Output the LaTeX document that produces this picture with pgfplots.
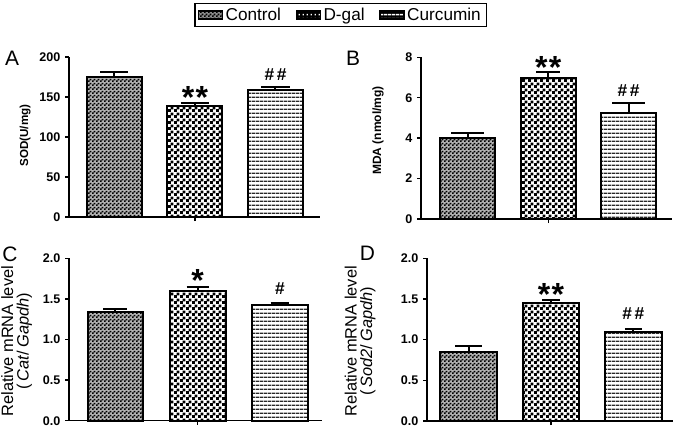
\documentclass[border=0pt]{standalone}
\usepackage{pgfplots}
\pgfplotsset{compat=1.18}
\usepackage{fontspec}
\setmainfont{Liberation Sans}
\usetikzlibrary{patterns}

\pgfdeclarepatternformonly{finecheck}{\pgfqpoint{0pt}{0pt}}{\pgfqpoint{3pt}{3pt}}{\pgfqpoint{3pt}{3pt}}{%
  \pgfpathrectangle{\pgfqpoint{0pt}{0pt}}{\pgfqpoint{1.5pt}{1.5pt}}%
  \pgfpathrectangle{\pgfqpoint{1.5pt}{1.5pt}}{\pgfqpoint{1.5pt}{1.5pt}}%
  \pgfusepath{fill}}
\pgfdeclarepatternformonly{bigcheck}{\pgfqpoint{0pt}{0pt}}{\pgfqpoint{4.5pt}{4.5pt}}{\pgfqpoint{4.5pt}{4.5pt}}{%
  \pgfpathrectangle{\pgfqpoint{0pt}{0pt}}{\pgfqpoint{2.4pt}{2.4pt}}%
  \pgfpathrectangle{\pgfqpoint{2.25pt}{2.25pt}}{\pgfqpoint{2.4pt}{2.4pt}}%
  \pgfusepath{fill}}
\pgfdeclarepatternformonly{hlinesp}{\pgfqpoint{0pt}{0pt}}{\pgfqpoint{3pt}{3pt}}{\pgfqpoint{3pt}{3pt}}{%
  \pgfpathrectangle{\pgfqpoint{0pt}{0pt}}{\pgfqpoint{3pt}{1.3pt}}%
  \pgfusepath{fill}}
\pgfdeclarepatternformonly{smalldots}{\pgfqpoint{0pt}{0pt}}{\pgfqpoint{2.6pt}{2.6pt}}{\pgfqpoint{2.6pt}{2.6pt}}{%
  \pgfpathrectangle{\pgfqpoint{0.6pt}{0.6pt}}{\pgfqpoint{1.1pt}{1.1pt}}%
  \pgfusepath{fill}}
\pgfdeclarepatternformonly{legstripes}{\pgfqpoint{0pt}{0pt}}{\pgfqpoint{3pt}{2.6pt}}{\pgfqpoint{3pt}{2.6pt}}{%
  \pgfpathrectangle{\pgfqpoint{0pt}{0.6pt}}{\pgfqpoint{3pt}{1.1pt}}%
  \pgfusepath{fill}}

\pgfplotsset{
  panel/.style={
    scale only axis, anchor=south west,
    axis x line=bottom, axis y line=left,
    axis line style={-, line width=1pt},
    tick align=outside, major tick length=3pt,
    every tick/.style={black, line width=1pt},
    xtick={2}, xticklabels={{}},
    ymin=0, clip=false,
    tick label style={font=\bfseries\fontsize{9.4}{10}\selectfont},
    /pgf/number format/assume math mode=true,
  },
  ctrl/.style={ybar, bar shift=0pt, draw=black, line width=1.5pt, fill=black!30, postaction={pattern=finecheck, pattern color=black}, forget plot},
  dgal/.style={ybar, bar shift=0pt, draw=black, line width=1.5pt, pattern=bigcheck, pattern color=black, forget plot},
  curc/.style={ybar, bar shift=0pt, draw=black, line width=1.5pt, fill=white, postaction={pattern=hlinesp, pattern color=black!85}, forget plot},
  eb/.style={error bars/.cd, y dir=plus, y explicit,
    error bar style={line width=1.5pt, black},
    error mark options={rotate=90, mark size=#1, line width=1.5pt, black}},
}
\newcommand{\astfont}{\fontsize{24}{24}\selectfont\bfseries}
\newcommand{\hshfont}{\fontsize{13}{13}\selectfont\bfseries}

\begin{document}
\begin{tikzpicture}
\useasboundingbox (0,0) rectangle (510pt,321.75pt);

% Panel labels
\node[font=\fontsize{15.7}{16}\selectfont] at (9pt,277.7pt) {A};
\node[font=\fontsize{15.7}{16}\selectfont] at (264.75pt,277.7pt) {B};
\node[font=\fontsize{15.7}{16}\selectfont] at (7.5pt,131.25pt) {C};
\node[font=\fontsize{15.7}{16}\selectfont] at (275.6pt,132pt) {D};

% ---------------- A ----------------
\begin{axis}[panel, at={(51.75pt,159pt)}, width=188.25pt, height=120pt,
  xmin=0.435, xmax=3.553, ymax=200, ytick={0,50,100,150,200},
  ylabel={SOD(U/mg)},
  ylabel style={at={(rel axis cs:-0.175,0.509)}, anchor=center, font=\bfseries\fontsize{8.7}{10}\selectfont},
  legend columns=3,
  legend style={at={(1.082,1.2625)}, anchor=center, draw=black, line width=0.9pt,
    font=\fontsize{12.9}{16}\selectfont, inner xsep=2pt, inner ysep=1.5pt,
    /tikz/every even column/.append style={column sep=9pt}},
  legend image code/.code={\draw[#1, line width=0.9pt] (0pt,-3pt) rectangle (18pt,3pt);},
  ]
\addlegendimage{fill=black!45, postaction={pattern=finecheck, pattern color=black}}
\addlegendentry{Control}
\addlegendimage{fill=black, postaction={pattern=smalldots, pattern color=white}}
\addlegendentry{D-gal}
\addlegendimage{fill=black, postaction={pattern=legstripes, pattern color=white}}
\addlegendentry{Curcumin}
\addplot[ctrl, bar width=0.683, eb=10.5pt] coordinates {(1,175.4) +- (0,5.6)};
\addplot[dgal, bar width=0.683, eb=10.8pt] coordinates {(2,138.4) +- (0,4.6)};
\addplot[curc, bar width=0.683, eb=10.8pt] coordinates {(3,158.75) +- (0,3.75)};
\node[anchor=base, font=\astfont] at (axis cs:2,135.4) {*\kern1pt*};
\node[anchor=base, font=\hshfont] at (axis cs:3,171.25) {\#\kern2pt\#};
\end{axis}

% ---------------- B ----------------
\begin{axis}[panel, at={(315.75pt,157.5pt)}, width=188.25pt, height=121.3pt,
  xmin=0.417, xmax=3.539, ymax=8, ytick={0,2,4,6,8},
  ylabel={MDA (nmol/mg)},
  ylabel style={at={(rel axis cs:-0.171,0.547)}, anchor=center, font=\bfseries\fontsize{9}{10}\selectfont},
  ]
\addplot[ctrl, bar width=0.684, eb=12.4pt] coordinates {(1,3.99) +- (0,0.25)};
\addplot[dgal, bar width=0.684, eb=9pt] coordinates {(2,6.96) +- (0,0.30)};
\addplot[curc, bar width=0.684, eb=12.4pt] coordinates {(3,5.26) +- (0,0.46)};
\node[anchor=base, font=\astfont] at (axis cs:2,6.96) {*\kern1pt*};
\node[anchor=base, font=\hshfont] at (axis cs:3,6.05) {\#\kern2pt\#};
\end{axis}

% ---------------- C ----------------
\begin{axis}[panel, at={(51.75pt,6.2pt)}, width=189.75pt, height=121.8pt,
  xmin=0.435, xmax=3.511, ymax=2, ytick={0,0.5,1,1.5,2},
  yticklabel style={/pgf/number format/.cd, fixed, fixed zerofill, precision=1},
  ylabel={Relative mRNA level\\(\,\textit{Cat}/\,\textit{Gapdh})},
  ylabel style={at={(rel axis cs:-0.207,0.49)}, anchor=center, align=center, font=\fontsize{12.3}{11.5}\selectfont},
  ]
\addplot[ctrl, bar width=0.677, eb=9pt] coordinates {(1,1.339) +- (0,0.037)};
\addplot[dgal, bar width=0.677, eb=8.25pt] coordinates {(2,1.593) +- (0,0.054)};
\addplot[curc, bar width=0.677, eb=7.1pt] coordinates {(3,1.425) +- (0,0.025)};
\node[anchor=base, font=\astfont] at (axis cs:2,1.594) {*};
\node[anchor=base, font=\hshfont] at (axis cs:3,1.560) {\#};
\end{axis}

% ---------------- D ----------------
\begin{axis}[panel, at={(320.25pt,6pt)}, width=184.5pt, height=122pt,
  xmin=0.492, xmax=3.483, ymax=2, ytick={0,0.5,1,1.5,2},
  yticklabel style={/pgf/number format/.cd, fixed, fixed zerofill, precision=1},
  ylabel={Relative mRNA level\\(\,\textit{Sod2}/\,\textit{Gapdh})},
  ylabel style={at={(rel axis cs:-0.272,0.49)}, anchor=center, align=center, font=\fontsize{12.3}{11.5}\selectfont},
  ]
\addplot[ctrl, bar width=0.69, eb=10pt] coordinates {(1,0.845) +- (0,0.075)};
\addplot[dgal, bar width=0.69, eb=6.75pt] coordinates {(2,1.454) +- (0,0.036)};
\addplot[curc, bar width=0.69, eb=6.4pt] coordinates {(3,1.09) +- (0,0.04)};
\node[anchor=base, font=\astfont] at (axis cs:2,1.422) {*\kern1pt*};
\node[anchor=base, font=\hshfont] at (axis cs:3,1.242) {\#\kern2pt\#};
\end{axis}
\end{tikzpicture}
\end{document}
